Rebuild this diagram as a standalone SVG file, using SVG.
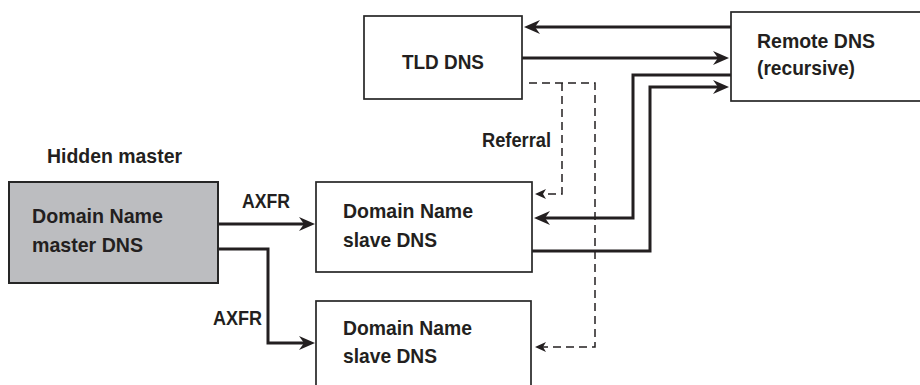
<svg xmlns="http://www.w3.org/2000/svg" width="920" height="385" viewBox="0 0 920 385">
  <style>
    .box { fill: #ffffff; stroke: #262626; stroke-width: 1.7; }
    .master { fill: #bcbdc0; stroke: #262626; stroke-width: 2; }
    .lbl { font-family: "Liberation Sans", Arial, sans-serif; font-size: 21px; font-weight: bold; fill: #231f20; }
    .flow { fill: none; stroke: #231f20; stroke-width: 3; stroke-linejoin: miter; }
    .ref { fill: none; stroke: #231f20; stroke-width: 1.5; stroke-dasharray: 8 5; }
  </style>
  <defs>
    <marker id="head" viewBox="0 0 16 14" refX="10" refY="7" markerWidth="16" markerHeight="14" markerUnits="userSpaceOnUse" orient="auto">
      <path d="M0,0 L16,7 L0,14 L5,7 Z" fill="#231f20"/>
    </marker>
    <marker id="headSmall" viewBox="0 0 11 10" refX="7" refY="5" markerWidth="11" markerHeight="10" markerUnits="userSpaceOnUse" orient="auto">
      <path d="M0,0 L11,5 L0,10 L3,5 Z" fill="#231f20"/>
    </marker>
  </defs>

  <!-- connectors -->
  <g id="connectors">
    <!-- zone transfers from the hidden master -->
    <path class="flow" d="M218,224 H309" marker-end="url(#head)"/>
    <path class="flow" d="M218,249 H268 V343 H309" marker-end="url(#head)"/>
    <!-- recursive resolver traffic -->
    <path class="flow" d="M731,27 H530" marker-end="url(#head)"/>
    <path class="flow" d="M522,58 H723" marker-end="url(#head)"/>
    <path class="flow" d="M731,75 H633 V218 H540" marker-end="url(#head)"/>
    <path class="flow" d="M532,251 H650 V87 H723" marker-end="url(#head)"/>
    <!-- referral from the TLD servers -->
    <path class="ref" d="M529,83 H595 V347 H539" marker-end="url(#headSmall)"/>
    <path class="ref" d="M562,83 V194 H539" marker-end="url(#headSmall)"/>
    <text class="lbl" x="242" y="208" textLength="48" lengthAdjust="spacingAndGlyphs">AXFR</text>
    <text class="lbl" x="213" y="325" textLength="49" lengthAdjust="spacingAndGlyphs">AXFR</text>
    <text class="lbl" x="482" y="147" textLength="69" lengthAdjust="spacingAndGlyphs">Referral</text>
  </g>

  <g id="tld">
    <rect class="box" x="364" y="16" width="158" height="83"/>
    <text class="lbl" x="402" y="69" textLength="82" lengthAdjust="spacingAndGlyphs">TLD DNS</text>
  </g>

  <g id="remote">
    <rect class="box" x="731" y="12" width="200" height="89"/>
    <text class="lbl" x="757" y="48" textLength="118" lengthAdjust="spacingAndGlyphs">Remote DNS</text>
    <text class="lbl" x="757" y="75" textLength="98" lengthAdjust="spacingAndGlyphs">(recursive)</text>
  </g>

  <g id="hidden-master">
    <text class="lbl" x="47" y="163" textLength="135" lengthAdjust="spacingAndGlyphs">Hidden master</text>
    <rect class="master" x="9" y="182" width="209" height="101"/>
    <text class="lbl" x="32" y="223" textLength="131" lengthAdjust="spacingAndGlyphs">Domain Name</text>
    <text class="lbl" x="32" y="252" textLength="111" lengthAdjust="spacingAndGlyphs">master DNS</text>
  </g>

  <g id="slave-1">
    <rect class="box" x="316" y="182" width="216" height="90"/>
    <text class="lbl" x="343" y="218" textLength="130" lengthAdjust="spacingAndGlyphs">Domain Name</text>
    <text class="lbl" x="343" y="247" textLength="94" lengthAdjust="spacingAndGlyphs">slave DNS</text>
  </g>

  <g id="slave-2">
    <rect class="box" x="316" y="301" width="215" height="100"/>
    <text class="lbl" x="343" y="335" textLength="129" lengthAdjust="spacingAndGlyphs">Domain Name</text>
    <text class="lbl" x="343" y="363" textLength="94" lengthAdjust="spacingAndGlyphs">slave DNS</text>
  </g>
</svg>
